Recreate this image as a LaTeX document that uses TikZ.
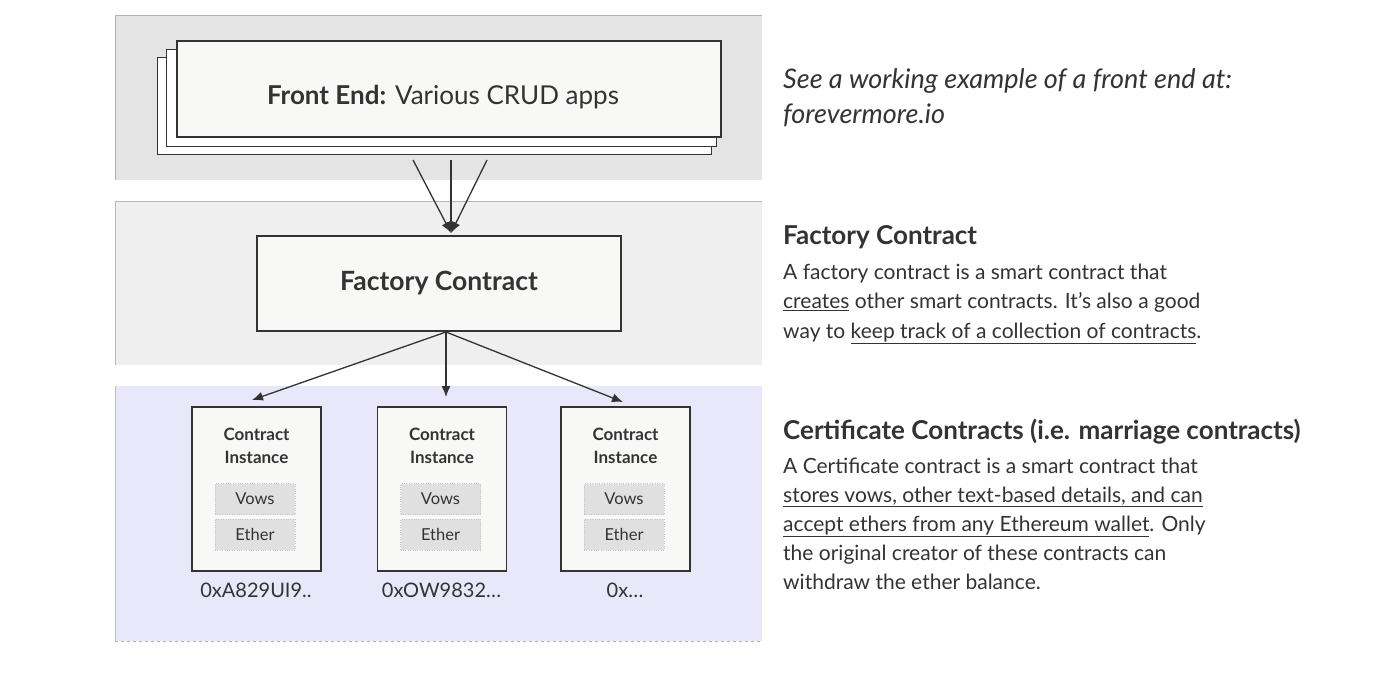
\documentclass[tikz,border=0pt]{standalone}
\usepackage{fontspec}
\setmainfont{Lato}
\usetikzlibrary{arrows.meta}
\definecolor{ink}{HTML}{333333}
\definecolor{topbg}{HTML}{E4E4E4}
\definecolor{midbg}{HTML}{EFEFEF}
\definecolor{botbg}{HTML}{E8E8FA}
\definecolor{boxbg}{HTML}{F8F8F7}
\definecolor{cellbg}{HTML}{E0E0E0}
\newcommand{\fs}[1]{\fontsize{#1}{#1}\selectfont}
\tikzset{
  panel/.style={draw=gray!50, line width=0.6pt},
  card/.style={draw=ink, fill=boxbg, line width=1.2pt},
  inst/.style={draw=ink, fill=boxbg, line width=1.2pt, minimum width=129pt, minimum height=164pt, inner sep=0pt},
  cell/.style={draw=gray!45, dotted, fill=cellbg, minimum width=80pt, minimum height=31pt, inner sep=0pt, text=ink, font=\fs{16.5}},
  conn/.style={draw=ink, line width=1.3pt, -{Latex[length=11pt,width=9pt]}},
  body/.style={anchor=base west, inner sep=0pt, text=ink, font=\fs{21}},
  head/.style={anchor=base west, inner sep=0pt, text=ink, font=\fs{26}\bfseries},
}
\begin{document}
\begin{tikzpicture}[x=1pt,y=-1pt]
\useasboundingbox (0,0) rectangle (1400,697);
\fill[white] (0,0) rectangle (1400,697);
% panels
\fill[topbg] (115,15) rectangle (762,180);
\draw[gray!60, line width=0.7pt] (115,180) -- (115,15) -- (762,15);
\fill[midbg] (115,201) rectangle (762,365);
\draw[gray!55, line width=0.6pt] (115,365) -- (115,201) -- (762,201);
\fill[botbg] (115,386) rectangle (762,641);
\draw[gray!50, line width=0.6pt] (115,641) -- (115,386);
\draw[gray!60, dashed, line width=0.6pt] (115,641) -- (762,641);
% front end stack
\draw[card, line width=1pt, fill=white] (157,57) rectangle (711,154);
\draw[card, line width=1pt, fill=white] (166,49) rectangle (716,146);
\node[card, minimum width=544pt, minimum height=96pt, inner sep=0pt] (fe) at (449,89) {};
\node[text=ink, font=\fs{26}, inner sep=0pt] (fet) at (443,97) {\textbf{Front End:} Various CRUD apps};
% factory
\node[card, minimum width=364pt, minimum height=95pt, inner sep=0pt, text=ink, font=\fs{26.5}\bfseries] (fc) at (439,283.5) {Factory Contract};
% instances
\foreach \n/\cx/\addr in {1/256.5/0xA829UI9.., 2/442/0xOW9832…, 3/625.5/0x…}{
  \node[inst] (ci\n) at (\cx,489) {};
  \node[text=ink, font=\fs{17}\bfseries, inner sep=0pt] (ct\n) at (\cx,434) {Contract};
  \node[text=ink, font=\fs{17}\bfseries, inner sep=0pt] (cs\n) at (\cx,457) {Instance};
  \node[cell] (vw\n) at (\cx-1.5,499) {Vows};
  \node[cell] (et\n) at (\cx-1.5,534.5) {Ether};
  \node[text=ink, font=\fs{20}, inner sep=0pt] (ad\n) at (\cx-0.5,590) {\addr};
}
% connectors front end -> factory
\coordinate (s1) at (413,160);
\coordinate (s2) at (451,160);
\coordinate (s3) at (487,160);
\coordinate (tip) at (451,233);
\draw[conn] (s1) -- (tip);
\draw[conn] (s3) -- (tip);
\draw[conn] (s2) -- (tip);
% connectors factory -> instances
\coordinate (fb) at (446,332);
\draw[conn] (fb) -- (252,400);
\draw[conn] (fb) -- (446,397);
\draw[conn] (fb) -- (623,402);
% right texts
\node[body, font=\fs{27}\itshape] (t1) at (783,88) {See a working example of a front end at:};
\node[body, font=\fs{27}\itshape] (t2) at (783,123) {forevermore.io};
\node[head] (h1) at (783,244) {Factory Contract};
\node[body] (b1) at (783,279) {A factory contract is a smart contract that};
\node[body] (b2) at (783,308.5) {\underline{creates} other smart contracts. It’s also a good};
\node[body] (b3) at (783,338) {way to \underline{keep track of a collection of contracts}.};
\node[head] (h2) at (783,439) {Certificate Contracts (i.e. marriage contracts)};
\node[body] (c1) at (783,473) {A Certificate contract is a smart contract that};
\node[body] (c2) at (783,502) {\underline{stores vows, other text-based details, and can}};
\node[body] (c3) at (783,531) {\underline{accept ethers from any Ethereum wallet}. Only};
\node[body] (c4) at (783,560) {the original creator of these contracts can};
\node[body] (c5) at (783,589.5) {withdraw the ether balance.};
\end{tikzpicture}
\end{document}
